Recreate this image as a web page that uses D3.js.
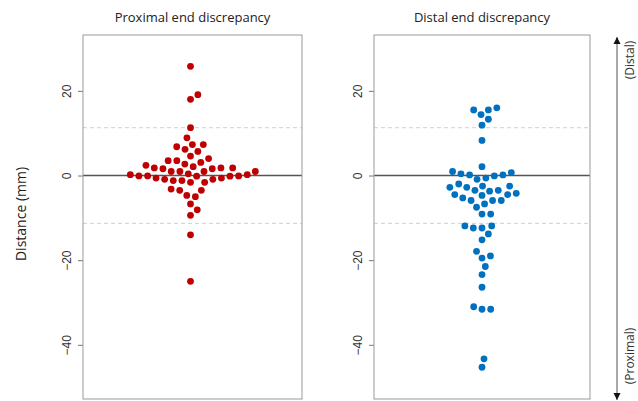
<!DOCTYPE html>
<meta charset="utf-8">
<script src="https://d3js.org/d3.v7.min.js"></script>
<style>
  body { margin: 0; background: #fff; }
</style>
<div id="chart"></div>
<script>

// data (distance in mm)
var proximal = [25.8, 18.0, 19.1, 11.3, 8.9, 7.3, 6.8, 5.7, 6.2, 7.3,
  4.0, 3.5, 2.4, 3.1, 3.5, 4.6,
  2.1, 1.8, 1.6, 0.95, 0.95, 0.95, 0.95, 1.6, 1.8, 1.8, 2.7,
  0.2, -0.15, -0.15, -0.1, 0.4, -0.1, -0.1, 0.2,
  -0.6, -0.9, -1.6, -1.6, -1.2, -1.2, -0.9, -0.6,
  -3.2, -3.5, -3.5, -4.7, -5.0, -6.7, -8.1, -9.4, -14.0, -25.0];

var distal = [15.5, 14.4, 15.5, 16.0, 13.3, 11.9, 8.3,
  2.1, 0.95, 0.7, -0.1, 0.4, -0.6, -0.9, 0.15, 0.15,
  -2.0, -2.5, -2.8, -3.5, -3.5, -2.8, -2.5, -4.5, -4.7, -3.7, -4.5, -4.2,
  -5.3, -5.9, -5.9, -5.9, -6.7, -7.5,
  -9.1, -9.1, -11.9, -12.4, -12.4, -11.9, -13.8, -15.2, -17.9, -19.5, -19.0,
  -21.5, -23.4, -26.4, -31.0, -31.6, -31.6, -43.3, -45.3];

var titles = ["Proximal end discrepancy", "Distal end discrepancy"];
var colors = ["#c00000", "#0070c0"];
var yTicks = [20, 0, -20, -40];
var limits = [11.3, -11.3];

var W = 638, H = 401;

var svg = d3.select("#chart").append("svg")
  .attr("width", W)
  .attr("height", H);

// shared y scale
var y = d3.scaleLinear()
  .domain([-52.8, 33.2])
  .range([399, 35]);

var panels = [
  { x0: 83, x1: 302, values: proximal },
  { x0: 374, x1: 590, values: distal }
];

// beeswarm placement (swarm, ascending priority), in pixels
function swarm(values, d) {
  var pts = values.map(function(v) { return { v: v, py: y(v), dx: 0 }; });
  var order = pts.slice().sort(function(a, b) { return a.v - b.v; });
  var placed = [];
  order.forEach(function(p) {
    var near = placed.filter(function(q) { return Math.abs(q.py - p.py) < d; });
    var plus = [], minus = [];
    near.forEach(function(q) {
      var off = Math.sqrt(d * d - (q.py - p.py) * (q.py - p.py));
      plus.push(q.dx + off);
      minus.push(q.dx - off);
    });
    var cands = [0].concat(plus, minus).filter(function(c) {
      return near.every(function(q) {
        return (c - q.dx) * (c - q.dx) + (q.py - p.py) * (q.py - p.py) >= d * d * 0.999;
      });
    });
    var best = cands[0], bestAbs = Math.abs(cands[0]);
    cands.forEach(function(c) { if (Math.abs(c) < bestAbs - 1e-9) { best = c; bestAbs = Math.abs(c); } });
    p.dx = best;
    placed.push(p);
  });
  return pts;
}

panels.forEach(function(p, i) {
  var g = svg.append("g");
  var x = d3.scaleLinear().domain([-1, 1]).range([p.x0, p.x1]);

  // title
  g.append("text")
    .attr("x", (p.x0 + p.x1) / 2)
    .attr("y", 22)
    .attr("text-anchor", "middle")
    .style("font-family", "'Open Sans', sans-serif")
    .style("font-size", "13px")
    .style("fill", "#222")
    .text(titles[i]);

  // dashed limit lines
  g.selectAll(".lim").data(limits).enter().append("line")
    .attr("x1", p.x0).attr("x2", p.x1)
    .attr("y1", function(d) { return y(d); })
    .attr("y2", function(d) { return y(d); })
    .attr("stroke", "#d0d0d0")
    .attr("stroke-width", 1)
    .attr("stroke-dasharray", "4,3");

  // zero line
  g.append("line")
    .attr("x1", p.x0).attr("x2", p.x1)
    .attr("y1", y(0)).attr("y2", y(0))
    .attr("stroke", "#555")
    .attr("stroke-width", 1.3);

  // y axis
  var axis = g.append("g")
    .attr("transform", "translate(" + p.x0 + ",0)")
    .call(d3.axisLeft(y).tickValues(yTicks).tickSize(5).tickFormat(d3.format("d")));
  axis.select(".domain").remove();
  axis.selectAll(".tick line").attr("stroke", "#777");
  axis.selectAll(".tick text")
    .attr("x", null).attr("dy", null)
    .attr("transform", "translate(-12,0) rotate(-90)")
    .attr("text-anchor", "middle")
    .style("font-family", "'Liberation Sans', Arial, sans-serif")
    .style("font-size", "12px")
    .style("fill", "#333");

  // box
  g.append("rect")
    .attr("x", p.x0).attr("y", y.range()[1])
    .attr("width", p.x1 - p.x0)
    .attr("height", y.range()[0] - y.range()[1])
    .attr("fill", "none")
    .attr("stroke", "#999")
    .attr("stroke-width", 1);

  // points
  var cx0 = x(0) - (i === 0 ? 2 : 0);
  g.selectAll("circle").data(swarm(p.values, 8.7)).enter().append("circle")
    .attr("cx", function(d) { return cx0 + d.dx; })
    .attr("cy", function(d) { return d.py; })
    .attr("r", 3.4)
    .attr("fill", colors[i]);
});

// y axis title
svg.append("text")
  .attr("transform", "translate(26,214) rotate(-90)")
  .attr("text-anchor", "middle")
  .style("font-family", "'Open Sans', sans-serif")
  .style("font-size", "14px")
  .style("fill", "#222")
  .text("Distance (mm)");

// direction arrow on the right
var defs = svg.append("defs");
defs.append("marker")
  .attr("id", "head")
  .attr("viewBox", "0 0 10 10")
  .attr("refX", 10).attr("refY", 5)
  .attr("markerWidth", 7).attr("markerHeight", 8)
  .attr("markerUnits", "userSpaceOnUse")
  .attr("orient", "auto-start-reverse")
  .append("path")
  .attr("d", "M0,0 L10,5 L0,10 Z")
  .attr("fill", "#111");

svg.append("line")
  .attr("x1", 617).attr("x2", 617)
  .attr("y1", 37).attr("y2", 400)
  .attr("stroke", "#555")
  .attr("stroke-width", 1)
  .attr("marker-start", "url(#head)")
  .attr("marker-end", "url(#head)");

svg.append("text")
  .attr("transform", "translate(634,60) rotate(-90)")
  .attr("text-anchor", "middle")
  .style("font-family", "'Open Sans', sans-serif")
  .style("font-size", "12px")
  .style("fill", "#333")
  .text("(Distal)");

svg.append("text")
  .attr("transform", "translate(634,356) rotate(-90)")
  .attr("text-anchor", "middle")
  .style("font-family", "'Open Sans', sans-serif")
  .style("font-size", "12px")
  .style("fill", "#333")
  .text("(Proximal)");

</script>
